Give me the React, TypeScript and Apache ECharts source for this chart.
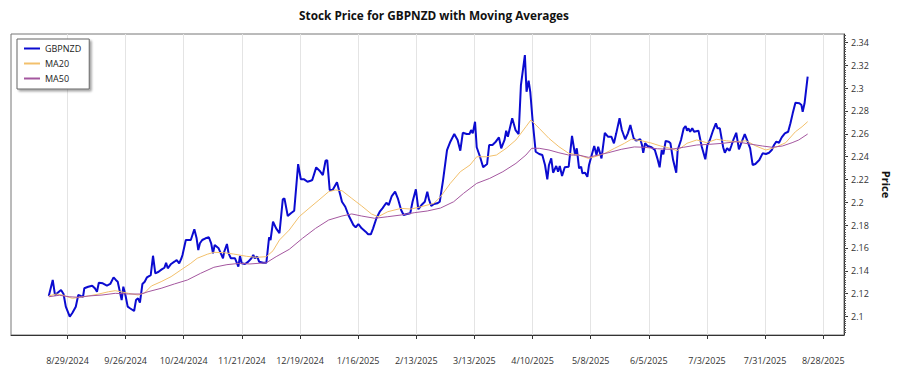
import React, { useEffect, useRef } from "react";
import * as echarts from "echarts";

const SERIES_START = Date.UTC(2024, 7, 20);
const DAY_MS = 86400000;

// Price (GBPNZD) — days since 2024-08-20, and close values
const priceDays = [
  0, 1.9, 3.0, 4.3, 5.9, 7.1, 8.2, 10.1, 11.4, 13.0,
  14.2, 15.4, 16.5, 17.1, 19.0, 20.9, 22.2, 23.2, 24.1, 26.0,
  28.0, 29.6, 31.2, 32.3, 33.2, 35.1, 35.9, 37.0, 38.0, 39.1,
  41.1, 42.0, 43.0, 43.9, 45.1, 46.2, 47.3, 49.1, 50.2, 51.3,
  52.9, 54.4, 55.7, 56.5, 57.3, 58.9, 60.5, 61.6, 62.8, 63.9,
  64.4, 66.0, 68.4, 70.1, 71.2, 72.0, 72.8, 73.9, 75.5, 77.1,
  78.2, 79.1, 79.9, 81.8, 83.9, 84.5, 85.8, 86.6, 87.7, 89.7,
  91.3, 92.1, 92.9, 94.5, 96.1, 97.6, 98.5, 99.2, 100.4, 101.3,
  103.2, 104.8, 106.1, 106.8, 108.0, 109.5, 111.1, 112.7, 113.5, 115.1,
  116.6, 118.2, 120.1, 121.4, 123.0, 124.6, 126.1, 126.9, 128.8, 130.4,
  132.0, 133.3, 134.1, 135.3, 136.7, 138.8, 140.4, 141.2, 142.8, 144.3,
  146.7, 147.8, 149.1, 150.7, 152.6, 153.8, 155.1, 156.2, 157.8, 159.4,
  160.7, 161.8, 162.6, 163.7, 165.2, 166.8, 168.1, 169.7, 170.9, 172.5,
  174.1, 175.2, 176.8, 178.0, 179.5, 181.1, 182.3, 183.1, 184.2, 185.5,
  187.1, 188.3, 189.9, 191.8, 193.4, 195.3, 196.9, 198.2, 199.4, 201.3,
  202.6, 203.4, 204.2, 205.3, 206.1, 207.7, 209.2, 211.1, 212.1, 213.7,
  215.3, 216.8, 217.9, 219.5, 220.3, 221.1, 223.2, 224.8, 226.3, 227.4,
  229.3, 230.1, 231.1, 231.9, 233.0, 234.5, 236.2, 237.7, 239.0, 240.1,
  240.9, 242.0, 242.9, 244.4, 245.3, 246.1, 247.2, 248.5, 250.4, 252.0,
  253.5, 254.3, 255.4, 256.4, 257.0, 258.3, 259.4, 260.2, 261.5, 262.7,
  263.8, 264.6, 266.2, 267.8, 269.4, 271.0, 272.2, 273.3, 274.9, 276.0,
  277.6, 278.9, 280.1, 281.7, 282.8, 283.9, 284.9, 285.7, 286.3, 287.2,
  288.4, 290.3, 291.9, 293.1, 294.2, 295.2, 296.0, 297.1, 298.6, 299.4,
  300.7, 302.2, 302.9, 304.5, 305.8, 306.7, 307.4, 308.1, 308.9, 309.9,
  310.8, 312.9, 314.5, 316.2, 317.2, 318.4, 320.0, 321.3, 322.1, 323.2,
  324.8, 325.6, 326.7, 327.9, 328.7, 329.8, 331.1, 332.4, 333.6, 335.2,
  336.6, 337.8, 339.0, 340.3, 342.2, 343.8, 345.4, 346.9, 348.2, 349.3,
  350.4, 351.7, 353.0, 354.5, 356.1, 357.2, 358.3, 359.6, 361.5, 362.5,
  363.1, 364.0, 365.5,
];
const priceValues = [
  2.1180, 2.1320, 2.1188, 2.1208, 2.1232, 2.1197, 2.1086, 2.0998, 2.1033, 2.1086,
  2.1188, 2.1180, 2.1173, 2.1247, 2.1261, 2.1270, 2.1247, 2.1217, 2.1296, 2.1291,
  2.1270, 2.1285, 2.1343, 2.1320, 2.1305, 2.1144, 2.1261, 2.1180, 2.1086, 2.1072,
  2.1048, 2.1144, 2.1159, 2.1121, 2.1285, 2.1305, 2.1343, 2.1363, 2.1532, 2.1378,
  2.1392, 2.1413, 2.1427, 2.1471, 2.1422, 2.1460, 2.1480, 2.1495, 2.1466, 2.1510,
  2.1539, 2.1670, 2.1670, 2.1764, 2.1685, 2.1582, 2.1641, 2.1670, 2.1685, 2.1694,
  2.1641, 2.1553, 2.1626, 2.1597, 2.1510, 2.1567, 2.1635, 2.1553, 2.1510, 2.1510,
  2.1436, 2.1530, 2.1466, 2.1460, 2.1480, 2.1510, 2.1539, 2.1510, 2.1524, 2.1480,
  2.1471, 2.1471, 2.1694, 2.1670, 2.1830, 2.1772, 2.1729, 2.2026, 2.2035, 2.1880,
  2.1904, 2.1926, 2.2335, 2.2201, 2.2201, 2.2180, 2.2189, 2.2195, 2.2306, 2.2277,
  2.2239, 2.2364, 2.2370, 2.2108, 2.2108, 2.2175, 2.2064, 2.2005, 2.1961, 2.1889,
  2.1801, 2.1781, 2.1810, 2.1772, 2.1743, 2.1720, 2.1720, 2.1772, 2.1860, 2.1918,
  2.1947, 2.1976, 2.1996, 2.1976, 2.2055, 2.2093, 2.2035, 2.1933, 2.1889, 2.1898,
  2.1904, 2.2005, 2.2114, 2.1939, 2.1976, 2.2005, 2.2093, 2.2026, 2.1968, 2.1985,
  2.1991, 2.2005, 2.2195, 2.2457, 2.2531, 2.2598, 2.2546, 2.2452, 2.2609, 2.2598,
  2.2598, 2.2633, 2.2604, 2.2706, 2.2482, 2.2399, 2.2307, 2.2335, 2.2502, 2.2502,
  2.2531, 2.2569, 2.2473, 2.2546, 2.2627, 2.2574, 2.2736, 2.2633, 2.2598, 2.3027,
  2.3290, 2.2968, 2.3065, 2.2968, 2.2721, 2.2443, 2.2423, 2.2414, 2.2327, 2.2201,
  2.2327, 2.2385, 2.2259, 2.2318, 2.2268, 2.2318, 2.2230, 2.2307, 2.2312, 2.2581,
  2.2414, 2.2473, 2.2298, 2.2312, 2.2254, 2.2259, 2.2224, 2.2327, 2.2414, 2.2493,
  2.2414, 2.2487, 2.2385, 2.2609, 2.2574, 2.2574, 2.2517, 2.2604, 2.2736, 2.2633,
  2.2552, 2.2604, 2.2677, 2.2560, 2.2542, 2.2546, 2.2552, 2.2502, 2.2434, 2.2517,
  2.2493, 2.2482, 2.2458, 2.2385, 2.2306, 2.2458, 2.2420, 2.2537, 2.2531, 2.2517,
  2.2370, 2.2259, 2.2458, 2.2546, 2.2648, 2.2668, 2.2627, 2.2648, 2.2618, 2.2648,
  2.2618, 2.2627, 2.2487, 2.2377, 2.2502, 2.2546, 2.2633, 2.2692, 2.2648, 2.2648,
  2.2482, 2.2434, 2.2473, 2.2452, 2.2493, 2.2552, 2.2609, 2.2464, 2.2522, 2.2598,
  2.2531, 2.2473, 2.2327, 2.2335, 2.2370, 2.2429, 2.2423, 2.2434, 2.2458, 2.2502,
  2.2531, 2.2522, 2.2569, 2.2604, 2.2618, 2.2692, 2.2779, 2.2872, 2.2867, 2.2852,
  2.2793, 2.2867, 2.3100,
];

// MA20
const ma20Days = [
  0, 3.5, 6.6, 9.8, 11.4, 14.6, 19.3, 24.1, 28.8, 32.0,
  35.1, 38.3, 43.0, 46.2, 49.4, 54.1, 58.9, 63.6, 68.4, 71.5,
  76.3, 79.5, 84.2, 89.0, 95.3, 100.0, 104.8, 108.0, 111.1, 115.8,
  120.6, 125.3, 130.1, 134.8, 138.0, 141.2, 145.9, 150.7, 155.4, 158.6,
  163.3, 169.7, 174.4, 179.2, 185.5, 188.7, 193.4, 198.2, 202.9, 206.1,
  210.8, 215.6, 220.3, 225.0, 229.8, 232.2, 236.2, 240.9, 245.7, 250.4,
  255.2, 259.9, 263.0, 267.8, 272.5, 277.3, 280.5, 285.2, 290.0, 294.7,
  299.4, 302.6, 307.4, 312.1, 316.9, 321.6, 326.4, 331.1, 335.9, 340.6,
  345.4, 350.1, 354.9, 359.6, 362.8, 365.5,
];
const ma20Values = [
  2.1180, 2.1197, 2.1188, 2.1168, 2.1159, 2.1168, 2.1180, 2.1197, 2.1217, 2.1226,
  2.1215, 2.1203, 2.1188, 2.1208, 2.1267, 2.1305, 2.1349, 2.1407, 2.1466, 2.1510,
  2.1545, 2.1562, 2.1559, 2.1547, 2.1527, 2.1518, 2.1524, 2.1576, 2.1670, 2.1757,
  2.1874, 2.1947, 2.2020, 2.2093, 2.2108, 2.2102, 2.2035, 2.1968, 2.1898, 2.1874,
  2.1918, 2.1947, 2.1941, 2.1961, 2.1991, 2.2049, 2.2166, 2.2268, 2.2327, 2.2399,
  2.2399, 2.2414, 2.2473, 2.2546, 2.2662, 2.2721, 2.2648, 2.2560, 2.2487, 2.2429,
  2.2414, 2.2385, 2.2399, 2.2429, 2.2473, 2.2517, 2.2552, 2.2540, 2.2520, 2.2493,
  2.2473, 2.2452, 2.2517, 2.2546, 2.2522, 2.2552, 2.2539, 2.2531, 2.2539, 2.2493,
  2.2458, 2.2482, 2.2522, 2.2618, 2.2662, 2.2706,
];

// MA50
const ma50Days = [
  0, 5.1, 9.8, 14.6, 19.3, 25.6, 32.0, 38.3, 44.6, 47.8,
  54.1, 60.5, 66.8, 73.1, 79.5, 85.8, 92.1, 96.8, 104.8, 109.5,
  115.8, 122.2, 128.5, 134.8, 141.2, 145.9, 150.7, 157.0, 163.3, 169.7,
  176.0, 182.3, 188.7, 195.0, 199.8, 206.1, 212.4, 218.7, 225.0, 229.8,
  232.6, 236.2, 240.9, 245.7, 250.4, 255.2, 259.9, 264.6, 269.4, 275.7,
  282.0, 286.8, 293.1, 299.4, 305.8, 312.1, 318.4, 324.8, 331.1, 337.4,
  343.8, 348.5, 353.3, 358.0, 361.2, 365.5,
];
const ma50Values = [
  2.1173, 2.1186, 2.1173, 2.1168, 2.1180, 2.1188, 2.1203, 2.1197, 2.1197, 2.1217,
  2.1247, 2.1285, 2.1320, 2.1378, 2.1431, 2.1454, 2.1466, 2.1460, 2.1471, 2.1524,
  2.1588, 2.1685, 2.1772, 2.1845, 2.1880, 2.1898, 2.1880, 2.1860, 2.1874, 2.1889,
  2.1909, 2.1924, 2.1950, 2.2005, 2.2079, 2.2166, 2.2210, 2.2268, 2.2341, 2.2414,
  2.2473, 2.2473, 2.2458, 2.2434, 2.2414, 2.2414, 2.2394, 2.2414, 2.2434, 2.2464,
  2.2485, 2.2482, 2.2469, 2.2464, 2.2482, 2.2502, 2.2508, 2.2517, 2.2531, 2.2511,
  2.2493, 2.2482, 2.2493, 2.2522, 2.2546, 2.2598,
];

const xTickDates = [
  "2024-08-29", "2024-09-26", "2024-10-24", "2024-11-21", "2024-12-19",
  "2025-01-16", "2025-02-13", "2025-03-13", "2025-04-10", "2025-05-08",
  "2025-06-05", "2025-07-03", "2025-07-31", "2025-08-28",
];
const yTickValues = [2.1, 2.12, 2.14, 2.16, 2.18, 2.2, 2.22, 2.24, 2.26, 2.28, 2.3, 2.32, 2.34];

const Y_MIN = 2.0838;
const Y_MAX = 2.3474;
const X_MIN = Date.UTC(2024, 7, 29) - 27.2 * DAY_MS;
const X_MAX = Date.UTC(2025, 7, 28) + 10 * DAY_MS;

const FONT = '"Open Sans", "Noto Sans", sans-serif';

function toPairs(days: number[], vals: number[]) {
  const n = Math.min(days.length, vals.length);
  const out: [number, number][] = [];
  for (let i = 0; i < n; i++) out.push([SERIES_START + days[i] * DAY_MS, vals[i]]);
  return out;
}

function isoToTs(s: string) {
  const [y, m, d] = s.split("-").map(Number);
  return Date.UTC(y, m - 1, d);
}

function fmtDate(v: number) {
  const d = new Date(v);
  return `${d.getUTCMonth() + 1}/${d.getUTCDate()}/${d.getUTCFullYear()}`;
}

export default function App() {
  const ref = useRef<HTMLDivElement>(null);

  useEffect(() => {
    if (!ref.current) return;
    const chart = echarts.init(ref.current, undefined, { renderer: "svg" });
    const xTicks = xTickDates.map(isoToTs);
    const minorTicks: number[] = [];
    for (let k = 1043; k <= 1173; k++) {
      const v = +(k * 0.002).toFixed(3);
      if (v > Y_MIN && v < Y_MAX) minorTicks.push(v);
    }

    chart.setOption({
      animation: false,
      backgroundColor: "#ffffff",
      textStyle: { fontFamily: FONT },
      graphic: [
        {
          type: "text",
          x: 434,
          y: 14.5,
          style: {
            text: "Stock Price for GBPNZD with Moving Averages",
            textAlign: "center",
            textVerticalAlign: "middle",
            fontFamily: FONT,
            fontSize: 11.8,
            fontWeight: "bold",
            fill: "#111",
          },
        },
      ],
      legend: {
        orient: "vertical",
        left: 17,
        top: 39,
        itemWidth: 16,
        itemHeight: 10,
        itemGap: 6,
        padding: [5, 8, 6, 6],
        borderColor: "#666",
        borderWidth: 1,
        backgroundColor: "#fff",
        shadowColor: "rgba(0,0,0,0.35)",
        shadowBlur: 2,
        shadowOffsetX: 2,
        shadowOffsetY: 2,
        itemStyle: { opacity: 0 },
        textStyle: { fontSize: 9, color: "#222", fontFamily: FONT },
        data: ["GBPNZD", "MA20", "MA50"],
      },
      grid: {
        left: 11,
        right: 44,
        top: 34,
        bottom: 40,
        show: true,
        borderColor: "#777",
        borderWidth: 1,
      },
      xAxis: {
        type: "value",
        min: X_MIN,
        max: X_MAX,
        axisLine: { show: true, lineStyle: { color: "#333" } },
        axisTick: { show: true, customValues: xTicks, length: 4, lineStyle: { color: "#333" } },
        axisLabel: {
          customValues: xTicks,
          formatter: (v: number) => fmtDate(v),
          fontSize: 9,
          color: "#333",
          margin: 21,
          fontFamily: FONT,
        },
        splitLine: { show: true, lineStyle: { color: "#e4e4e4", width: 1 } },
      },
      yAxis: [
        {
          type: "value",
          position: "right",
          min: Y_MIN,
          max: Y_MAX,
          axisLine: { show: true, lineStyle: { color: "#333" } },
          axisTick: { show: true, customValues: yTickValues, length: 4, lineStyle: { color: "#333" } },
          axisLabel: {
            customValues: yTickValues,
            fontSize: 9,
            color: "#333",
            margin: 7,
            fontFamily: FONT,
            formatter: (v: number) => String(+v.toFixed(2)),
          },
          splitLine: { show: false },
          name: "Price",
          nameLocation: "middle",
          nameRotate: -90,
          nameGap: 37,
          nameTextStyle: { fontSize: 11, fontWeight: "bold", color: "#111", fontFamily: FONT },
        },
        {
          type: "value",
          position: "right",
          min: Y_MIN,
          max: Y_MAX,
          axisLine: { show: false },
          axisTick: { show: true, customValues: minorTicks, length: 2, lineStyle: { color: "#555" } },
          axisLabel: { show: false },
          splitLine: { show: false },
        },
      ],
      series: [
        {
          name: "GBPNZD",
          type: "line",
          data: toPairs(priceDays, priceValues),
          symbol: "none",
          color: "#0b0bd0",
          lineStyle: { width: 2, color: "#0b0bd0" },
          z: 2,
        },
        {
          name: "MA20",
          type: "line",
          data: toPairs(ma20Days, ma20Values),
          symbol: "none",
          color: "#f2c06c",
          lineStyle: { width: 1, color: "#f2c06c" },
          z: 3,
        },
        {
          name: "MA50",
          type: "line",
          data: toPairs(ma50Days, ma50Values),
          symbol: "none",
          color: "#a4579f",
          lineStyle: { width: 1, color: "#a4579f" },
          z: 4,
        },
      ],
    });

    return () => chart.dispose();
  }, []);

  return (
    <div
      ref={ref}
      style={{ position: "fixed", left: 0, top: 0, width: 900, height: 375, background: "#fff" }}
    />
  );
}
